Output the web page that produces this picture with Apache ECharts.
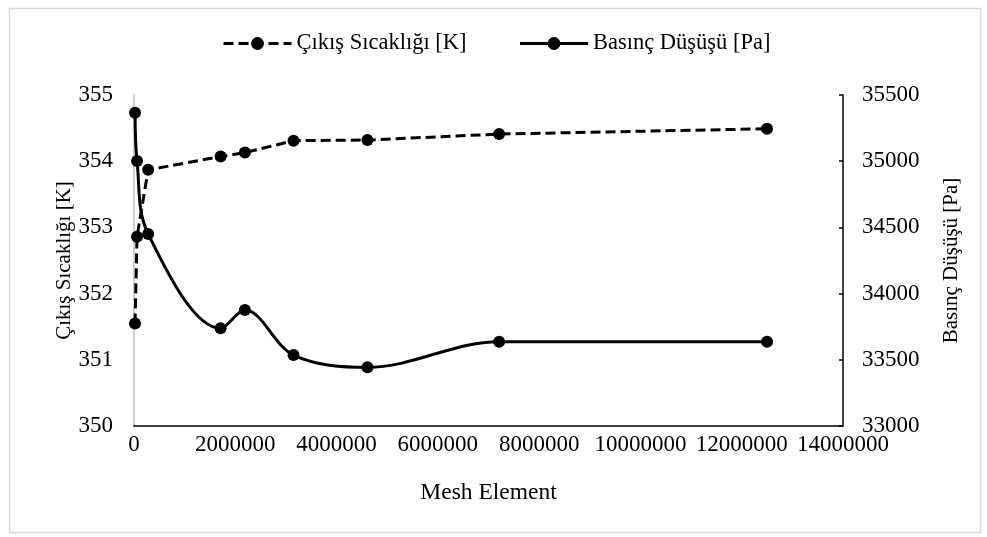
<!DOCTYPE html>
<html>
<head>
<meta charset="utf-8">
<script src="https://cdn.jsdelivr.net/npm/echarts@6/dist/echarts.min.js"></script>
<style>
html,body{margin:0;padding:0;background:#fff;}
#c{width:987px;height:537px;}
</style>
</head>
<body>
<div id="c"></div>
<script>
const meshElements = [20000, 60000, 280000, 1710000, 2190000, 3150000, 4610000, 7210000, 12500000];
const outletTemp = [351.55, 352.86, 353.87, 354.07, 354.13, 354.31, 354.32, 354.41, 354.49];
const pressureDrop = [35366, 35001, 34450, 33738, 33876, 33536, 33443, 33637, 33637];
const seriesNames = ['Çıkış Sıcaklığı [K]', 'Basınç Düşüşü [Pa]'];
const xAxisName = 'Mesh Element';

const font = 'Liberation Serif, Times New Roman, serif';
const chart = echarts.init(document.getElementById('c'), null, {renderer: 'canvas'});
const pairs = (ys) => meshElements.map((x, i) => [x, ys[i]]);
const plain = (v) => String(v);
const tickFont = 23;

chart.setOption({
  animation: false,
  backgroundColor: '#fff',
  textStyle: {fontFamily: font, color: '#000'},
  graphic: [{
    type: 'rect', left: 7, top: 6, shape: {width: 971, height: 524},
    style: {fill: 'none', stroke: '#d9d9d9', lineWidth: 1.5}, silent: true
  }],
  legend: {
    top: 32, left: 222, padding: 0, itemWidth: 68, itemHeight: 16, itemGap: 52,
    textStyle: {fontFamily: font, fontSize: 22.5, color: '#000'},
    lineStyle: {width: 3},
    data: seriesNames
  },
  grid: {left: 134, right: 144, top: 95, bottom: 111, containLabel: false},
  xAxis: {
    type: 'value', min: 0, max: 14000000, interval: 2000000,
    name: xAxisName, nameLocation: 'middle', nameGap: 55, nameMoveOverlap: false,
    nameTextStyle: {fontFamily: font, fontSize: 23.5, color: '#000'},
    axisLine: {show: true, lineStyle: {color: '#000', width: 1.5}},
    axisTick: {show: false},
    axisLabel: {fontFamily: font, fontSize: tickFont, color: '#000', margin: 7, formatter: plain},
    splitLine: {show: false}
  },
  yAxis: [{
    type: 'value', min: 350, max: 355, interval: 1, position: 'left',
    name: seriesNames[0], nameLocation: 'middle', nameGap: 59, nameRotate: 90, nameMoveOverlap: false,
    nameTextStyle: {fontFamily: font, fontSize: 21, color: '#000'},
    axisLine: {show: true, lineStyle: {color: '#bfbfbf', width: 1.5}},
    axisTick: {show: false},
    axisLabel: {fontFamily: font, fontSize: tickFont, color: '#000', margin: 21, formatter: plain},
    splitLine: {show: false}
  }, {
    type: 'value', min: 33000, max: 35500, interval: 500, position: 'right',
    name: seriesNames[1], nameLocation: 'middle', nameGap: 98, nameRotate: 90, nameMoveOverlap: false,
    nameTextStyle: {fontFamily: font, fontSize: 21, color: '#000'},
    axisLine: {show: true, lineStyle: {color: '#000', width: 1.5}},
    axisTick: {show: true, inside: true, length: 4, lineStyle: {color: '#000', width: 1.5}},
    axisLabel: {fontFamily: font, fontSize: tickFont, color: '#000', margin: 19, formatter: plain},
    splitLine: {show: false}
  }],
  series: [{
    name: seriesNames[0], type: 'line', yAxisIndex: 0,
    data: pairs(outletTemp),
    symbol: 'circle', symbolSize: 12,
    itemStyle: {color: '#000'},
    lineStyle: {color: '#000', width: 3, type: [10, 5]},
    smooth: false, z: 3
  }, {
    name: seriesNames[1], type: 'line', yAxisIndex: 1,
    data: pairs(pressureDrop),
    symbol: 'circle', symbolSize: 12,
    itemStyle: {color: '#000'},
    lineStyle: {color: '#000', width: 3},
    smooth: 0.35, z: 4
  }]
});
</script>
</body>
</html>
